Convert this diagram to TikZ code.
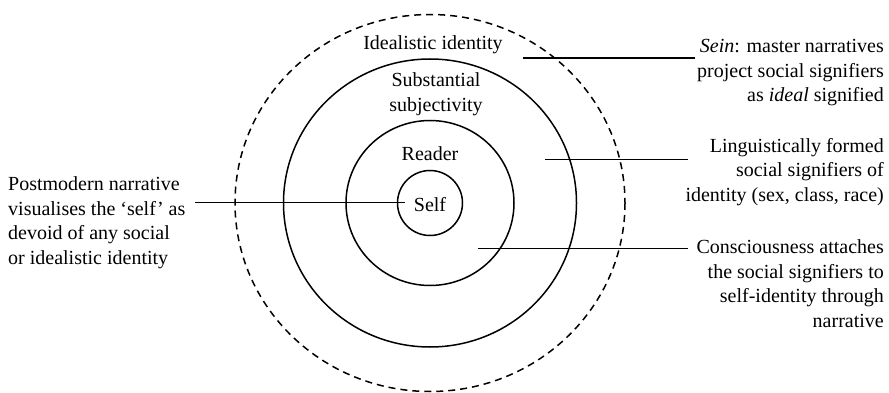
\documentclass[tikz,border=0pt]{standalone}
\usepackage{fontspec}
\setmainfont{Liberation Serif}
\begin{document}
\begin{tikzpicture}[x=1pt,y=-1pt,
  ring/.style={line width=1.5pt},
  dashring/.style={line width=1.5pt,dash pattern=on 7pt off 5pt},
  leader/.style={line width=1.5pt},
  txt/.style={inner sep=0pt,font=\fontsize{20}{24.5}\selectfont},
  rtxt/.style={txt,anchor=east,align=right},
  ltxt/.style={txt,anchor=west,align=left},
  ctxt/.style={txt,align=center}]
\useasboundingbox (0,0) rectangle (889,393);
\coordinate (c) at (430,203);
\draw[dashring] (c) ellipse [x radius=195, y radius=188.5];
\draw[ring] (c) ellipse [x radius=146.5, y radius=144];
\draw[ring] (c) ellipse [x radius=84, y radius=82.5];
\draw[ring] (c) ellipse [x radius=32.5, y radius=32.5];
% centre labels
\node[ctxt] (ideal) at (433,45) {Idealistic identity};
\node[ctxt] (subst) at (436,94.2) {Substantial\\subjectivity};
\node[ctxt] (reader) at (430,154) {Reader};
\node[ctxt] (self) at (430,205) {Self};
% side texts
\node[ltxt] (post) at (8,222.5) {Postmodern narrative\\visualises the `self' as\\devoid of any social\\or idealistic identity};
\node[rtxt] (sein) at (884,73) {\textit{Sein}: master narratives\\project social signifiers\\as \textit{ideal} signified};
\node[rtxt] (ling) at (884,171.7) {Linguistically formed\\social signifiers of\\identity (sex, class, race)};
\node[rtxt] (cons) at (884,283.7) {Consciousness attaches\\the social signifiers to\\self-identity through\\narrative};
% leader ends
\coordinate (p1) at (195,202.5);
\coordinate (p2) at (405,202.5);
\coordinate (s1) at (523,58);
\coordinate (s2) at (695,58);
\coordinate (l1) at (545,159.3);
\coordinate (l2) at (688,159.3);
\coordinate (k1) at (478,248.3);
\coordinate (k2) at (688,248.3);
\draw[leader] (p1) -- (p2);
\draw[leader] (s1) -- (s2);
\draw[leader] (l1) -- (l2);
\draw[leader] (k1) -- (k2);
\end{tikzpicture}
\end{document}
